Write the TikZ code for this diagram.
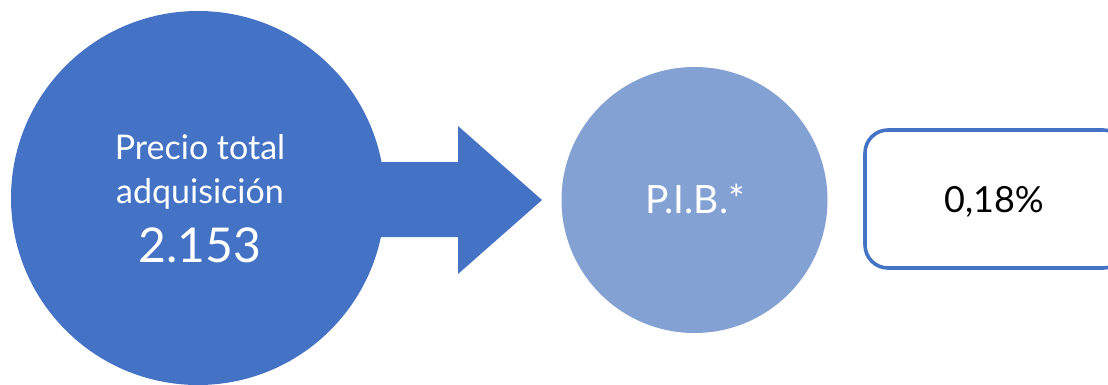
\documentclass[tikz,border=0pt]{standalone}
\usepackage{fontspec}
\setmainfont{Lato}
\definecolor{mainblue}{HTML}{4472C4}
\definecolor{paleblue}{HTML}{84A1D3}
\begin{document}
\begin{tikzpicture}[x=1pt,y=-1pt,
  disc/.style={circle,inner sep=0pt,draw=none},
  whitetext/.style={text=white,anchor=base,inner sep=0pt},
  resultbox/.style={draw=mainblue,line width=3.6pt,rounded corners=23pt,fill=white,
    minimum width=261pt,minimum height=138pt,inner sep=0pt}]
\useasboundingbox (0,0) rectangle (1108,385);

% large source disc
\node[disc,fill=mainblue,minimum size=374pt] (precio) at (198,198) {};
% block arrow leaving the large disc
\coordinate (tip) at (542,200);
\fill[mainblue] (precio.center |- 0,162) -- (458,162) -- (458,126) -- (tip)
  -- (458,274) -- (458,237) -- (precio.center |- 0,237) -- cycle;

% labels on the large disc
\node[whitetext,font=\fontsize{34}{40}\selectfont] (l1) at (200,159) {Precio total};
\node[whitetext,font=\fontsize{34}{40}\selectfont] (l2) at (200,203) {adquisición};
\node[whitetext,font=\fontsize{48}{58}\selectfont] (l3) at (200,262) {2.153};

% GDP disc
\node[disc,fill=paleblue,minimum size=266pt] (pib) at (694.5,200) {};
\node[whitetext,font=\fontsize{39}{47}\selectfont] (pibtxt) at (695,213) {P.I.B.*};

% result box
\node[resultbox] (res) at (995.5,199) {};
\node[anchor=base,inner sep=0pt,font=\fontsize{36}{42}\selectfont] (pct) at (994,212) {0,18\%};
\end{tikzpicture}
\end{document}
